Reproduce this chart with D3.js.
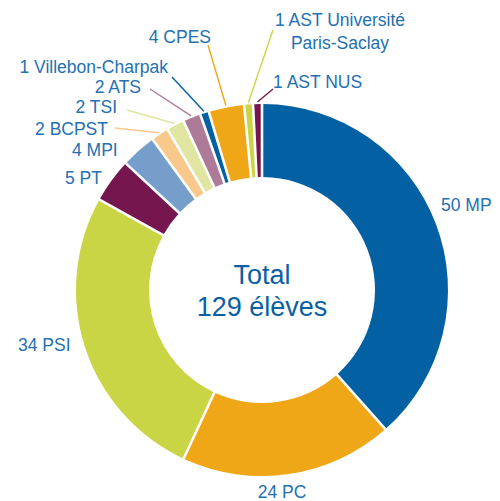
<!DOCTYPE html>
<html>
<head>
<meta charset="utf-8">
<script src="https://cdn.jsdelivr.net/npm/d3@7"></script>
<style>
  body { margin: 0; background: #fff; }
  text { font-family: "Liberation Sans", Arial, sans-serif; }
</style>
</head>
<body>
<script>
// données : filières, effectifs, couleurs
var categories = ["MP", "PC", "PSI", "PT", "MPI", "BCPST", "TSI", "ATS",
  "Villebon-Charpak", "CPES", "AST Université Paris-Saclay", "AST NUS"];
var values = [50, 24, 34, 5, 4, 2, 2, 2, 1, 4, 1, 1];
var colors = ["#0361a3", "#efa718", "#c9d544", "#75174e", "#759ecb", "#f8c98b",
  "#e0e6a2", "#ad7b98", "#0361a3", "#efa718", "#c9d544", "#75174e"];
// libellés affichés (une ligne par élément)
var labels = [["50 MP"], ["24 PC"], ["34 PSI"], ["5 PT"], ["4 MPI"], ["2 BCPST"],
  ["2 TSI"], ["2 ATS"], ["1 Villebon-Charpak"], ["4 CPES"],
  ["1 AST Université", "Paris-Saclay"], ["1 AST NUS"]];
var centerText = ["Total", "129 élèves"];

// mise en page des libellés : position du texte, ancrage, fin du trait de rappel
var labelLayout = [
  {x: 441, y: 211, anchor: "start"},
  {x: 282, y: 498, anchor: "middle"},
  {x: 18, y: 351, anchor: "start"},
  {x: 65, y: 184, anchor: "start"},
  {x: 72, y: 156, anchor: "start"},
  {x: 108, y: 135, anchor: "end", line: [115, 128]},
  {x: 117, y: 113, anchor: "end", line: [127, 110]},
  {x: 141, y: 93, anchor: "end", line: [150, 89]},
  {x: 168, y: 73, anchor: "end", line: [172, 77]},
  {x: 211, y: 43, anchor: "end", line: [208, 45]},
  {x: 340, y: 26, anchor: "middle", line: [273, 30]},
  {x: 273, y: 88, anchor: "start", line: [273, 89]}
];

var width = 500, height = 501;
var cx = 262, cy = 290, outerR = 186, innerR = 113;

var svg = d3.select("body").append("svg")
  .attr("width", width)
  .attr("height", height);

var g = svg.append("g")
  .attr("transform", "translate(" + cx + "," + cy + ")");

var pie = d3.pie().sort(null).value(function (d) { return d; });
var arcs = pie(values);

var arc = d3.arc()
  .innerRadius(innerR)
  .outerRadius(outerR)
  .padAngle(2.6 / outerR)
  .padRadius(outerR);

g.selectAll("path.slice")
  .data(arcs)
  .enter()
  .append("path")
  .attr("class", "slice")
  .attr("d", arc)
  .attr("fill", function (d, i) { return colors[i]; });

// traits de rappel pour les petites parts
var lineArc = d3.arc().innerRadius(outerR + 2).outerRadius(outerR + 2);
arcs.forEach(function (d, i) {
  var lay = labelLayout[i];
  if (!lay.line) return;
  var p = lineArc.centroid(d);
  svg.append("line")
    .attr("x1", cx + p[0])
    .attr("y1", cy + p[1])
    .attr("x2", lay.line[0])
    .attr("y2", lay.line[1])
    .attr("stroke", colors[i])
    .attr("stroke-width", 1.4);
});

// libellés
labels.forEach(function (lines, i) {
  var lay = labelLayout[i];
  var t = svg.append("text")
    .attr("x", lay.x)
    .attr("y", lay.y)
    .attr("text-anchor", lay.anchor)
    .attr("font-size", 17.5)
    .attr("fill", "#2470b2");
  lines.forEach(function (s, k) {
    t.append("tspan")
      .attr("x", lay.x)
      .attr("dy", k === 0 ? 0 : 22.5)
      .text(s);
  });
});

// texte central
svg.append("text")
  .attr("x", cx)
  .attr("y", 284)
  .attr("text-anchor", "middle")
  .attr("font-size", 27)
  .attr("fill", "#0b5fa5")
  .text(centerText[0]);
svg.append("text")
  .attr("x", cx)
  .attr("y", 316)
  .attr("text-anchor", "middle")
  .attr("font-size", 27)
  .attr("fill", "#0b5fa5")
  .text(centerText[1]);
</script>
</body>
</html>
